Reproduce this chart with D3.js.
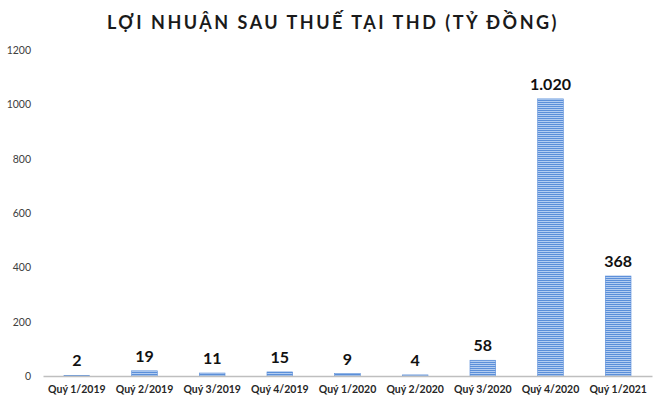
<!DOCTYPE html>
<html><head><meta charset="utf-8">
<script src="https://cdn.jsdelivr.net/npm/d3@7"></script>
<style>body{margin:0;background:#fff}svg{display:block}</style>
</head><body>
<svg id="c" width="663" height="407"></svg>
<script>
const categories = ["Quý 1/2019","Quý 2/2019","Quý 3/2019","Quý 4/2019","Quý 1/2020","Quý 2/2020","Quý 3/2020","Quý 4/2020","Quý 1/2021"];
const values = [2,19,11,15,9,4,58,1020,368];
const valueLabels = ["2","19","11","15","9","4","58","1.020","368"];
const yTicks = [0,200,400,600,800,1000,1200];
const title = "LỢI NHUẬN SAU THUẾ TẠI THD (TỶ ĐỒNG)";

const svg = d3.select("#c");
const font = "Lato, 'Open Sans', sans-serif";
const x = d3.scaleBand().domain(categories).range([43,652]).paddingInner(0.62).paddingOuter(0.31);
const y = d3.scaleLinear().domain([0,1200]).range([376,50]);

const defs = svg.append("defs");
const pat = defs.append("pattern").attr("id","stripes").attr("patternUnits","userSpaceOnUse")
  .attr("width",4).attr("height",2);
pat.append("rect").attr("width",4).attr("height",2).attr("fill","#b3cdf1");
pat.append("rect").attr("width",4).attr("height",1).attr("fill","#5b8fd9");

svg.append("text").attr("x",333).attr("y",29).attr("text-anchor","middle")
  .style("font-family",font).style("font-weight","700").style("font-size","18px")
  .style("letter-spacing","2.5px").attr("fill","#1a1a1a").text(title);

const yAxis = svg.append("g").attr("transform","translate(34,0)")
  .call(d3.axisLeft(y).tickValues(yTicks).tickFormat(d3.format("d")).tickSize(0).tickPadding(3));
yAxis.select(".domain").remove();
yAxis.selectAll("text").style("font-family",font).style("font-size","10.5px").attr("fill","#404040");

svg.selectAll("rect.bar").data(values).join("rect").attr("class","bar")
  .attr("x",(d,i)=>x(categories[i])).attr("width",x.bandwidth())
  .attr("y",d=>y(d)).attr("height",d=>y(0)-y(d))
  .attr("fill","url(#stripes)").attr("stroke","#5b8fd9").attr("stroke-width",0.6);

const xAxis = svg.append("g").attr("transform","translate(0,376)")
  .call(d3.axisBottom(x).tickSize(0).tickPadding(10));
xAxis.select(".domain").attr("stroke","#bfbfbf").attr("stroke-width",1.5);
xAxis.selectAll("text").style("font-family",font).style("font-size","10.5px").style("font-weight","700").attr("fill","#262626");

svg.selectAll("text.vl").data(values).join("text").attr("class","vl")
  .attr("x",(d,i)=>x(categories[i])+x.bandwidth()/2).attr("y",d=>y(d)-9)
  .attr("text-anchor","middle").style("font-family",font).style("font-weight","700")
  .style("font-size","16px").attr("fill","#111").text((d,i)=>valueLabels[i]);
</script>
</body></html>
